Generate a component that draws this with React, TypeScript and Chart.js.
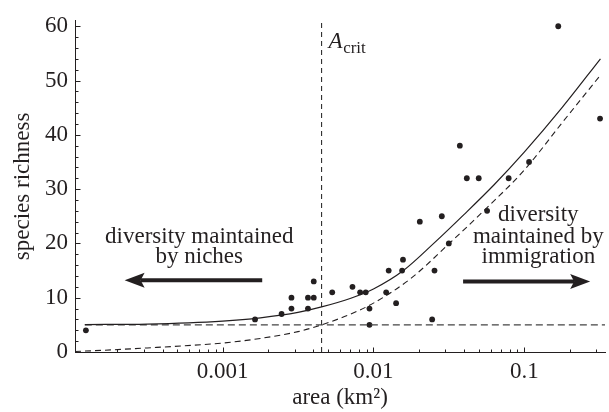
import React, { useEffect, useRef } from "react";
import { Chart, registerables } from "chart.js";

Chart.register(...registerables);

// ---------- data ----------
const scatterArea = [
  0.000124, 0.00164, 0.00246, 0.00286, 0.00286, 0.00368, 0.00368, 0.00402, 0.00402,
  0.00533, 0.00726, 0.00816, 0.00889, 0.00941, 0.00941, 0.01214, 0.01262, 0.01413,
  0.01549, 0.0157, 0.0203, 0.0245, 0.0254, 0.0284, 0.0316, 0.0374, 0.0416, 0.0499,
  0.0567, 0.0788, 0.1076, 0.168, 0.318,
];
const scatterRichness = [
  4, 6, 7, 10, 8, 10, 8, 10, 13,
  11, 12, 11, 11, 8, 5, 11, 15, 9,
  15, 17, 24, 6, 15, 25, 20, 38, 32, 32,
  26, 32, 35, 60, 43,
];

// solid curve (niches + immigration)
const modelArea = [0.000122, 0.000316, 0.001, 0.00178, 0.00316, 0.00453, 0.00708, 0.01, 0.0158, 0.0251, 0.0398, 0.0631, 0.1, 0.178, 0.32];
const modelRichness = [5.05, 5.15, 5.7, 6.3, 7.3, 8.3, 9.9, 11.6, 15.0, 20.0, 25.3, 30.8, 36.8, 45.0, 54.0];

// dashed curve (immigration only)
const immigrationArea = [0.000105, 0.000158, 0.000316, 0.000562, 0.001, 0.00178, 0.00316, 0.00453, 0.00708, 0.01, 0.0178, 0.0316, 0.0562, 0.1, 0.178, 0.32];
const immigrationRichness = [0.1, 0.3, 0.75, 1.15, 1.65, 2.5, 3.75, 5.0, 7.0, 9.0, 13.6, 19.9, 26.5, 33.5, 42.2, 51.0];

const nicheRichness = 5;
const aCrit = 0.00453;
const nicheLineArea = [0.000122, 0.343];

const xTickValues = [0.001, 0.01, 0.1];
const xMinorTicks = [
  0.0002, 0.0003, 0.0004, 0.0005, 0.0006, 0.0007, 0.0008, 0.0009,
  0.002, 0.003, 0.004, 0.005, 0.006, 0.007, 0.008, 0.009,
  0.02, 0.03, 0.04, 0.05, 0.06, 0.07, 0.08, 0.09,
  0.2, 0.3,
];
const yTickValues = [0, 10, 20, 30, 40, 50, 60];
const yMinorTicks = [
  2, 4, 6, 8, 12, 14, 16, 18, 22, 24, 26, 28, 32, 34, 36, 38,
  42, 44, 46, 48, 52, 54, 56, 58,
];

const X_MIN = 0.000105;
const X_MAX = 0.343;
const Y_MIN = 0;
const Y_MAX = 61;

// ---------- styling ----------
const INK = "#231f20";
const SERIF = '"Liberation Serif", "Times New Roman", serif';
const FONT_SIZE = 23;

// annotation anchors in data coordinates
const leftText = { x: 0.0007, lines: ["diversity maintained", "by niches"], baselines: [20.0, 16.3] };
const rightText = { x: 0.124, lines: ["diversity", "maintained by", "immigration"], baselines: [24.1, 20.15, 16.3] };
const nicheArrow = { from: 0.00183, to: 0.000224, y: 13.2 };
const immigArrow = { from: 0.0393, to: 0.2735, y: 13.0 };
const aCritLabel = { y: 56.0 };

function drawArrow(ctx: CanvasRenderingContext2D, x0: number, x1: number, yy: number) {
  const dir = Math.sign(x1 - x0);
  const headLen = 20;
  const headHalf = 7.5;
  const notch = 4;
  ctx.save();
  ctx.strokeStyle = INK;
  ctx.fillStyle = INK;
  ctx.lineWidth = 4;
  ctx.lineCap = "butt";
  ctx.beginPath();
  ctx.moveTo(x0, yy);
  ctx.lineTo(x1 - dir * (headLen - notch), yy);
  ctx.stroke();
  ctx.beginPath();
  ctx.moveTo(x1, yy);
  ctx.lineTo(x1 - dir * headLen, yy - headHalf);
  ctx.lineTo(x1 - dir * (headLen - notch), yy);
  ctx.lineTo(x1 - dir * headLen, yy + headHalf);
  ctx.closePath();
  ctx.fill();
  ctx.restore();
}

const decorPlugin = {
  id: "decor",
  afterDatasetsDraw(chart: any) {
    const { ctx, chartArea, scales } = chart;
    const xs = scales.x;
    const ys = scales.y;
    ctx.save();
    // inward tick marks
    ctx.strokeStyle = INK;
    ctx.lineWidth = 1;
    ctx.beginPath();
    const left = chartArea.left + 0.5;
    const bottom = chartArea.bottom + 0.5;
    yTickValues.forEach((v) => {
      const py = Math.round(ys.getPixelForValue(v)) + 0.5;
      ctx.moveTo(left, py);
      ctx.lineTo(left + 5, py);
    });
    yMinorTicks.forEach((v) => {
      const py = Math.round(ys.getPixelForValue(v)) + 0.5;
      ctx.moveTo(left, py);
      ctx.lineTo(left + 3, py);
    });
    xTickValues.forEach((v) => {
      const px = Math.round(xs.getPixelForValue(v)) + 0.5;
      ctx.moveTo(px, bottom);
      ctx.lineTo(px, bottom - 5);
    });
    xMinorTicks.forEach((v) => {
      const px = Math.round(xs.getPixelForValue(v)) + 0.5;
      ctx.moveTo(px, bottom);
      ctx.lineTo(px, bottom - 3);
    });
    ctx.stroke();

    // annotation text
    ctx.fillStyle = INK;
    ctx.font = `${FONT_SIZE}px ${SERIF}`;
    ctx.textAlign = "center";
    ctx.textBaseline = "alphabetic";
    leftText.lines.forEach((t, i) => {
      ctx.fillText(t, xs.getPixelForValue(leftText.x), ys.getPixelForValue(leftText.baselines[i]));
    });
    rightText.lines.forEach((t, i) => {
      ctx.fillText(t, xs.getPixelForValue(rightText.x), ys.getPixelForValue(rightText.baselines[i]));
    });

    // A_crit label
    const ax = xs.getPixelForValue(aCrit) + 7;
    const ay = ys.getPixelForValue(aCritLabel.y);
    ctx.textAlign = "left";
    ctx.font = `italic ${FONT_SIZE}px ${SERIF}`;
    ctx.fillText("A", ax, ay);
    const aw = ctx.measureText("A").width;
    ctx.font = `17px ${SERIF}`;
    ctx.fillText("crit", ax + aw + 0.5, ay + 5);

    // arrows
    drawArrow(ctx, xs.getPixelForValue(nicheArrow.from), xs.getPixelForValue(nicheArrow.to), ys.getPixelForValue(nicheArrow.y));
    drawArrow(ctx, xs.getPixelForValue(immigArrow.from), xs.getPixelForValue(immigArrow.to), ys.getPixelForValue(immigArrow.y));
    ctx.restore();
  },
};

export default function App() {
  const canvasRef = useRef<HTMLCanvasElement | null>(null);

  useEffect(() => {
    const canvas = canvasRef.current;
    if (!canvas) return;
    const lineBase = {
      type: "line" as const,
      pointRadius: 0,
      borderColor: INK,
      backgroundColor: INK,
      fill: false,
    };
    const chart = new Chart(canvas, {
      type: "line",
      data: {
        datasets: [
          {
            ...lineBase,
            label: "niches + immigration",
            data: modelArea.map((a, i) => ({ x: a, y: modelRichness[i] })),
            borderWidth: 1.2,
            cubicInterpolationMode: "monotone",
          },
          {
            ...lineBase,
            label: "immigration only",
            data: immigrationArea.map((a, i) => ({ x: a, y: immigrationRichness[i] })),
            borderWidth: 1.1,
            borderDash: [6, 4],
            cubicInterpolationMode: "monotone",
          },
          {
            ...lineBase,
            label: "niche floor",
            data: nicheLineArea.map((a) => ({ x: a, y: nicheRichness })),
            borderWidth: 1.1,
            borderDash: [7, 4],
            borderColor: "#444",
          },
          {
            ...lineBase,
            label: "A crit",
            data: [
              { x: aCrit, y: Y_MIN },
              { x: aCrit, y: Y_MAX },
            ],
            borderWidth: 1.1,
            borderDash: [5, 4],
            borderColor: "#333",
          },
          {
            type: "scatter" as const,
            label: "observed",
            data: scatterArea.map((a, i) => ({ x: a, y: scatterRichness[i] })),
            pointRadius: 2.9,
            pointBorderWidth: 0,
            backgroundColor: INK,
            borderColor: INK,
            showLine: false,
          },
        ] as any,
      },
      options: {
        animation: false,
        responsive: false,
        devicePixelRatio: 1,
        layout: { padding: { top: 20, right: 1, bottom: 0, left: 0 } },
        plugins: {
          legend: { display: false },
          tooltip: { enabled: false },
        },
        scales: {
          x: {
            type: "logarithmic",
            position: "bottom",
            min: X_MIN,
            max: X_MAX,
            grid: { display: false, drawTicks: false },
            border: { display: true, color: INK, width: 1 },
            ticks: {
              color: INK,
              font: { family: SERIF, size: FONT_SIZE },
              padding: 6,
              autoSkip: false,
              maxRotation: 0,
              callback: (v: any) => String(v),
            },
            afterBuildTicks: (s: any) => {
              s.ticks = xTickValues.map((v) => ({ value: v }));
            },
            afterFit: (s: any) => {
              s.height = 60;
            },
            title: {
              display: true,
              text: "area (km²)",
              color: INK,
              font: { family: SERIF, size: FONT_SIZE },
              padding: { top: 0, bottom: 0 },
            },
          },
          y: {
            type: "linear",
            min: Y_MIN,
            max: Y_MAX,
            grid: { display: false, drawTicks: false },
            border: { display: true, color: INK, width: 1 },
            ticks: {
              color: INK,
              font: { family: SERIF, size: FONT_SIZE },
              padding: 7,
            },
            afterBuildTicks: (s: any) => {
              s.ticks = yTickValues.map((v) => ({ value: v }));
            },
            afterFit: (s: any) => {
              s.width = 75;
            },
            title: {
              display: true,
              text: "species richness",
              color: INK,
              font: { family: SERIF, size: FONT_SIZE },
              padding: { top: 9, bottom: 0 },
            },
          },
        },
      },
      plugins: [decorPlugin],
    });
    return () => chart.destroy();
  }, []);

  return (
    <div style={{ position: "fixed", left: 0, top: 0, width: 609, height: 412, background: "#fff" }}>
      <canvas ref={canvasRef} width={609} height={412} style={{ width: 609, height: 412, display: "block" }} />
    </div>
  );
}
